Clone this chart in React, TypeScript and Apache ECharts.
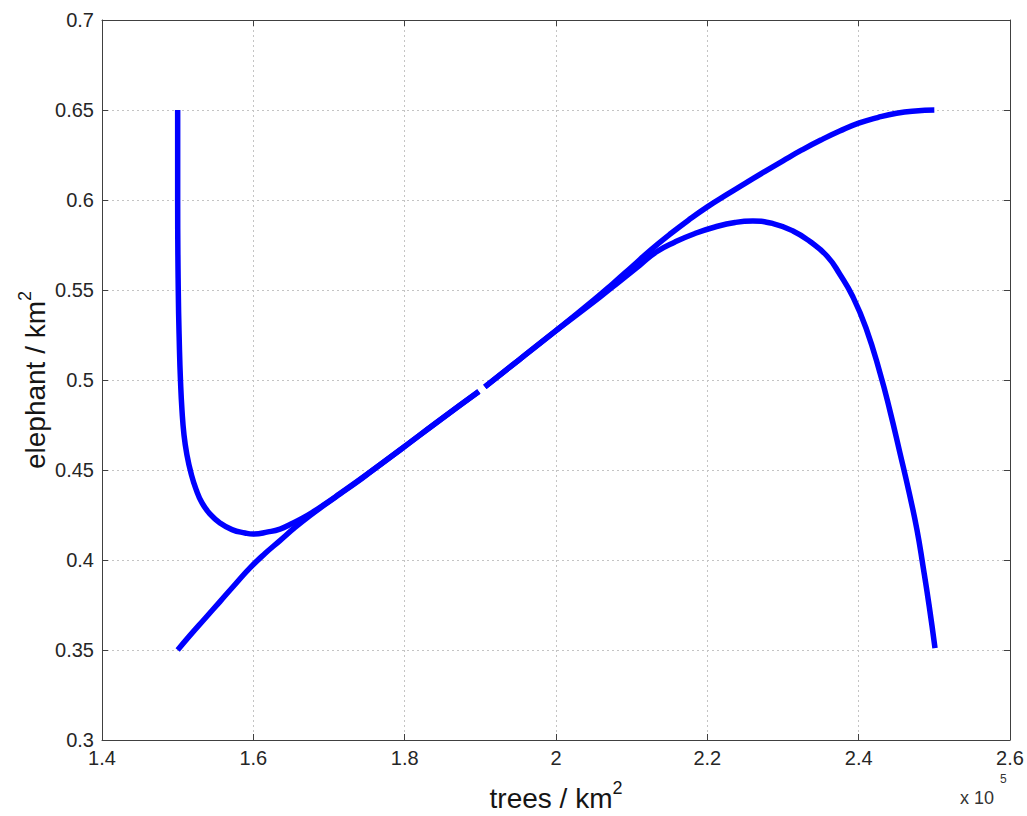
import React, { useEffect, useRef } from "react";
import * as echarts from "echarts";

// Tick labels (x values are in units of 10^5 trees / km^2)
const X_TICKS = [1.4, 1.6, 1.8, 2, 2.2, 2.4, 2.6];
const Y_TICKS = [0.3, 0.35, 0.4, 0.45, 0.5, 0.55, 0.6, 0.65, 0.7];
const X_TITLE = "trees / km";
const Y_TITLE = "elephant / km";
const TITLE_SUP = "2";
const X_SCALE_TEXT = "x 10";
const X_SCALE_EXP = "5";

// Trajectory starting at (1.5, 0.65)
const curveUpperLeft: [number, number][] = [
  [1.5, 0.65], [1.5, 0.6], [1.5008, 0.55], [1.5024, 0.5167], [1.5037, 0.5],
  [1.5057, 0.4833], [1.5084, 0.4694], [1.5123, 0.4583], [1.5176, 0.4483],
  [1.5242, 0.4394], [1.5322, 0.4317], [1.5427, 0.4256], [1.5559, 0.4206],
  [1.5718, 0.4169], [1.589, 0.415], [1.5996, 0.4144], [1.6194, 0.4156],
  [1.6352, 0.4172], [1.6498, 0.42], [1.6643, 0.4231], [1.6789, 0.4267],
  [1.6947, 0.4311], [1.7145, 0.4369], [1.737, 0.4436], [1.7581, 0.45],
  [1.7938, 0.4611], [1.8467, 0.4778], [1.898, 0.4936],
];

// Trajectory starting at (1.5, 0.35)
const curveLowerLeft: [number, number][] = [
  [1.5, 0.35], [1.5163, 0.3581], [1.5361, 0.3675], [1.5559, 0.3769],
  [1.5758, 0.3864], [1.5956, 0.3956], [1.6154, 0.4036], [1.6352, 0.4108],
  [1.6551, 0.4181], [1.6749, 0.4247], [1.6947, 0.4308], [1.7145, 0.4367],
  [1.737, 0.4433], [1.7581, 0.45], [1.7938, 0.4611], [1.8467, 0.4778],
  [1.898, 0.4936],
];

// Trajectory starting at (2.5, 0.65)
const curveUpperRight: [number, number][] = [
  [2.5, 0.65], [2.475, 0.6495], [2.45, 0.6482], [2.425, 0.6458], [2.4, 0.6427],
  [2.375, 0.6383], [2.35, 0.6333], [2.325, 0.6278], [2.3, 0.6218], [2.275, 0.6156],
  [2.25, 0.6092], [2.225, 0.6028], [2.2, 0.5962], [2.175, 0.5888], [2.15, 0.5808],
  [2.125, 0.5722], [2.1, 0.5628], [2.075, 0.5535], [2.05, 0.5445], [2.0, 0.5274],
  [1.95, 0.5108], [1.906, 0.4962],
];

// Trajectory starting at (2.5, 0.35)
const curveLowerRight: [number, number][] = [
  [2.5009, 0.3511], [2.493, 0.375], [2.485, 0.3967], [2.4771, 0.4167],
  [2.4665, 0.4378], [2.4546, 0.4594], [2.4414, 0.4828], [2.4282, 0.5039],
  [2.4097, 0.5289], [2.3925, 0.5461], [2.3753, 0.5586], [2.3581, 0.5689],
  [2.3357, 0.5769], [2.3132, 0.5828], [2.2868, 0.5869], [2.2603, 0.5883],
  [2.2366, 0.5875], [2.2101, 0.585], [2.1837, 0.5814], [2.1573, 0.5767],
  [2.1335, 0.5714], [2.111, 0.5639], [2.0846, 0.555], [2.0581, 0.5461],
  [2.0, 0.5274], [1.95, 0.5108], [1.906, 0.4962],
];

const FONT = "'Liberation Sans', Arial, Helvetica, sans-serif";

export default function App() {
  const ref = useRef<HTMLDivElement>(null);

  useEffect(() => {
    if (!ref.current) return;
    const chart = echarts.init(ref.current, null, { renderer: "svg" });
    const fmt = (v: number) => String(parseFloat(v.toFixed(3)));
    const xInterval = +(X_TICKS[1] - X_TICKS[0]).toFixed(6);
    const yInterval = +(Y_TICKS[1] - Y_TICKS[0]).toFixed(6);
    const frame = { color: "#404040", width: 1 };
    const tick = { show: true, inside: true, length: 6, lineStyle: { color: "#404040", width: 1 } };
    const gridLine = { show: true, lineStyle: { color: "#c4c4c4", type: [2, 3] as number[], width: 1 } };
    const tickLabel = { color: "#262626", fontSize: 20, fontFamily: FONT, formatter: fmt };
    const titleRich = {
      m: { fontSize: 28, lineHeight: 28, verticalAlign: "bottom", fontFamily: FONT, color: "#151515" },
      s: { fontSize: 18, lineHeight: 33, verticalAlign: "top", fontFamily: FONT, color: "#151515" },
    };
    const xBase = {
      type: "value",
      min: X_TICKS[0],
      max: X_TICKS[X_TICKS.length - 1],
      interval: xInterval,
      axisLine: { show: true, onZero: false, lineStyle: frame },
      axisTick: tick,
    };
    const yBase = {
      type: "value",
      min: Y_TICKS[0],
      max: Y_TICKS[Y_TICKS.length - 1],
      interval: yInterval,
      axisLine: { show: true, onZero: false, lineStyle: frame },
      axisTick: tick,
    };

    const curves = [curveUpperLeft, curveLowerLeft, curveUpperRight, curveLowerRight];

    chart.setOption({
      animation: false,
      backgroundColor: "#ffffff",
      grid: { left: 102, right: 17, top: 20, bottom: 76, containLabel: false, outerBoundsMode: "none" },
      xAxis: [
        {
          ...xBase,
          position: "bottom",
          axisLabel: { ...tickLabel, margin: 8 },
          splitLine: gridLine,
          name: `{m|${X_TITLE}}{s|${TITLE_SUP}}`,
          nameLocation: "middle",
          nameGap: 39,
          nameMoveOverlap: false,
          nameTextStyle: { rich: titleRich },
        },
        {
          ...xBase,
          position: "top",
          axisLabel: { show: false },
          splitLine: { show: false },
        },
      ],
      yAxis: [
        {
          ...yBase,
          position: "left",
          axisLabel: { ...tickLabel, margin: 8 },
          splitLine: gridLine,
          name: `{m|${Y_TITLE}}{s|${TITLE_SUP}}`,
          nameLocation: "middle",
          nameGap: 53,
          nameMoveOverlap: false,
          nameTextStyle: { rich: titleRich },
        },
        {
          ...yBase,
          position: "right",
          axisLabel: { show: false },
          splitLine: { show: false },
        },
      ],
      series: curves.map((d) => ({
        type: "line",
        xAxisIndex: 0,
        yAxisIndex: 0,
        data: d,
        showSymbol: false,
        symbol: "none",
        smooth: 0.5,
        silent: true,
        lineStyle: { color: "#0000ff", width: 5.5, cap: "butt", join: "round" },
      })),
      graphic: [
        {
          type: "text",
          x: 960,
          y: 807,
          style: { text: X_SCALE_TEXT, fontSize: 18, fontFamily: FONT, fill: "#333", align: "left", verticalAlign: "bottom" },
        },
        {
          type: "text",
          x: 1000,
          y: 785,
          style: { text: X_SCALE_EXP, fontSize: 12, fontFamily: FONT, fill: "#333", align: "left", verticalAlign: "bottom" },
        },
      ],
    });

    return () => chart.dispose();
  }, []);

  return (
    <div
      ref={ref}
      style={{ position: "fixed", left: 0, top: 0, width: 1027, height: 816, background: "#fff" }}
    />
  );
}
